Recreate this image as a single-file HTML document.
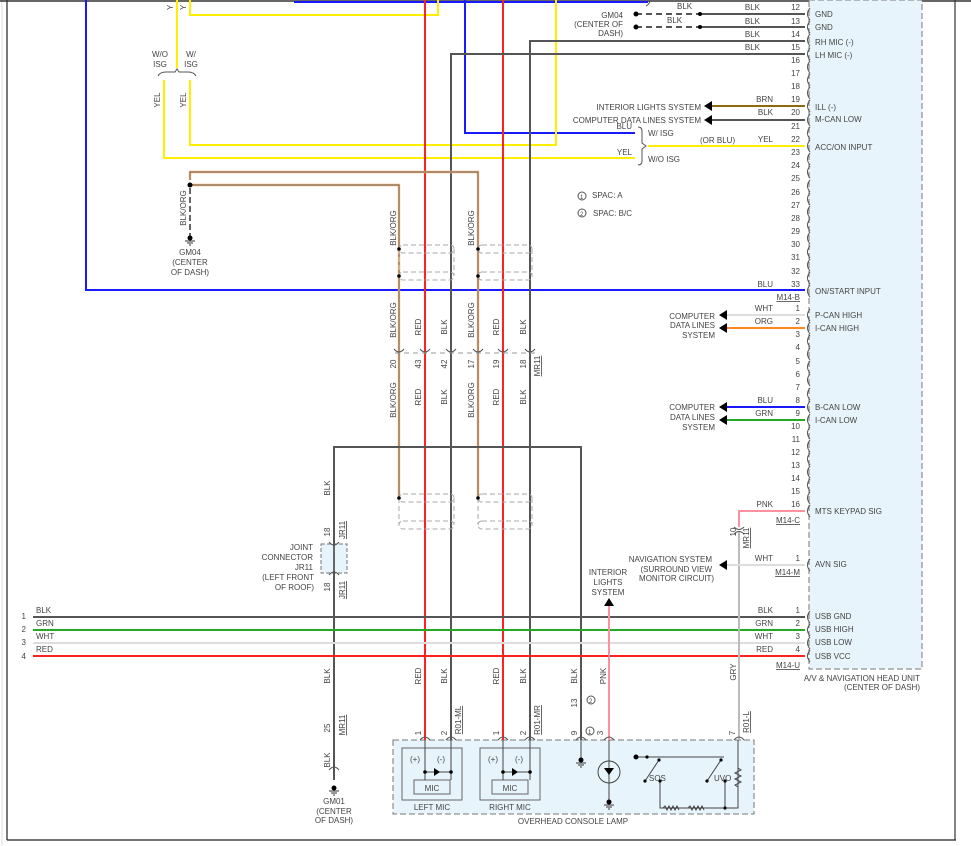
<!DOCTYPE html>
<html><head><meta charset="utf-8"><style>
html,body{margin:0;padding:0;background:#fff;}
svg{display:block;font-family:"Liberation Sans",sans-serif;font-size:8px;fill:#444;}
.w{fill:none;stroke-linecap:butt}
</style></head><body>
<svg width="971" height="846" viewBox="0 0 971 846" xmlns="http://www.w3.org/2000/svg">
<!-- frame -->
<line x1="2" y1="0" x2="2" y2="846" stroke="#ddd" stroke-width="1"/>
<line x1="7" y1="0" x2="7" y2="840" stroke="#222" stroke-width="1.2"/>
<line x1="0" y1="1" x2="971" y2="1" stroke="#333" stroke-width="1.5"/>
<line x1="7" y1="840" x2="956" y2="840" stroke="#222" stroke-width="1.2"/>
<line x1="955" y1="0" x2="955" y2="840" stroke="#333" stroke-width="1.2"/>

<!-- head unit -->
<rect x="809" y="0" width="113" height="669" fill="#e8f4fc" stroke="#777" stroke-dasharray="6,3"/>
<!-- overhead console -->
<rect x="393" y="740" width="361" height="74" fill="#e8f4fc" stroke="#777" stroke-dasharray="6,3"/>
<rect x="402" y="748" width="60" height="52" fill="none" stroke="#666"/>
<rect x="414" y="780" width="36" height="14" fill="none" stroke="#666"/>
<rect x="480" y="748" width="60" height="52" fill="none" stroke="#666"/>
<rect x="492" y="780" width="36" height="14" fill="none" stroke="#666"/>
<rect x="321" y="544" width="26" height="29" fill="#e8f4fc" stroke="#777" stroke-dasharray="4,2"/>

<!-- blue -->
<polyline class="w" points="86,0 86,290 805,290" stroke="#1a1aff" stroke-width="2"/>
<polyline class="w" points="294,2 648,2" stroke="#1a1aff" stroke-width="2"/>
<polyline class="w" points="465,0 465,133 635,133" stroke="#1a1aff" stroke-width="2"/>
<!-- yellow -->
<polyline class="w" points="177,0 177,68" stroke="#ffee00" stroke-width="2"/>
<polyline class="w" points="190,0 190,15 438,15 438,0" stroke="#ffee00" stroke-width="2"/>
<polyline class="w" points="164,80 164,158 635,158" stroke="#ffee00" stroke-width="2"/>
<polyline class="w" points="190,80 190,145 556,145 556,0" stroke="#ffee00" stroke-width="2"/>
<polyline class="w" points="648,146 805,146" stroke="#ffee00" stroke-width="2"/>
<path d="M158,76 q2,-4 8,-4 h9 l2,-3 l2,3 h9 q6,0 8,4" class="w" stroke="#555"/>
<path d="M638,127 q4,0 4,4 v12 l4,3 l-4,3 v12 q0,4 -4,4" class="w" stroke="#555"/>
<path d="M650,0 q0,4 -4,6" class="w" stroke="#555"/>

<!-- red verticals -->
<line x1="425" y1="0" x2="425" y2="740" stroke="#ff2020" stroke-width="2"/>
<line x1="503" y1="0" x2="503" y2="740" stroke="#ff2020" stroke-width="2"/>
<!-- black verticals -->
<polyline class="w" points="451,740 451,54 805,54" stroke="#555" stroke-width="2"/>
<polyline class="w" points="530,740 530,41 805,41" stroke="#555" stroke-width="2"/>
<!-- blk/org -->
<polyline class="w" points="190,185 399,185 399,498" stroke="#f5b070" stroke-width="2.4"/>
<polyline class="w" points="190,185 399,185 399,498" stroke="#666" stroke-width="0.9"/>
<polyline class="w" points="190,180 190,172 478,172 478,498" stroke="#f5b070" stroke-width="2.4"/>
<polyline class="w" points="190,180 190,172 478,172 478,498" stroke="#666" stroke-width="0.9"/>
<line x1="190" y1="188" x2="190" y2="236" stroke="#333" stroke-width="1.5" stroke-dasharray="6,3"/>
<circle cx="190" cy="185" r="2.5" fill="#000"/>
<g fill="#000"><circle cx="190" cy="238" r="2.5"/></g>
<path d="M185,241 h10 M187,243 h6 M189,245 h2" stroke="#333"/>
<!-- shields -->
<g class="w" stroke="#aaa" stroke-dasharray="5,3">
<rect x="399" y="245" width="55" height="8" rx="4"/><rect x="399" y="272" width="55" height="8" rx="4"/>
<line x1="399" y1="249" x2="399" y2="276"/><line x1="454" y1="249" x2="454" y2="276"/>
<rect x="478" y="245" width="54" height="8" rx="4"/><rect x="478" y="272" width="54" height="8" rx="4"/>
<line x1="532" y1="249" x2="532" y2="276"/>
<rect x="399" y="494" width="55" height="8" rx="4"/><rect x="399" y="521" width="55" height="8" rx="4"/>
<line x1="399" y1="498" x2="399" y2="525"/><line x1="454" y1="498" x2="454" y2="525"/>
<rect x="478" y="494" width="54" height="8" rx="4"/><rect x="478" y="521" width="54" height="8" rx="4"/>
<line x1="478" y1="498" x2="478" y2="525"/><line x1="532" y1="498" x2="532" y2="525"/>
</g>
<g fill="#000"><circle cx="399" cy="249" r="1.8"/><circle cx="399" cy="276" r="1.8"/><circle cx="478" cy="249" r="1.8"/><circle cx="478" cy="276" r="1.8"/><circle cx="399" cy="498" r="1.8"/><circle cx="478" cy="498" r="1.8"/></g>
<!-- MR11 connector dashed -->
<line x1="395" y1="353" x2="535" y2="353" stroke="#999" stroke-dasharray="5,4"/>
<g class="w" stroke="#555"><path d="M394,349 q5,6 10,0 M420,349 q5,6 10,0 M446,349 q5,6 10,0 M473,349 q5,6 10,0 M498,349 q5,6 10,0 M525,349 q5,6 10,0"/></g>

<!-- grey loop -->
<polyline class="w" points="334,780 334,447 581,447 581,740" stroke="#555" stroke-width="2"/>
<g fill="#000"><circle cx="334" cy="788" r="2.5"/></g>
<path d="M329,791 h10 M331,793 h6 M333,795 h2" stroke="#333"/>

<!-- USB lines -->
<line x1="33" y1="617" x2="805" y2="617" stroke="#555" stroke-width="2"/>
<line x1="33" y1="630" x2="805" y2="630" stroke="#22aa22" stroke-width="2"/>
<line x1="33" y1="643" x2="805" y2="643" stroke="#ddd" stroke-width="2"/>
<line x1="33" y1="656" x2="805" y2="656" stroke="#ff2020" stroke-width="2"/>

<!-- pnk / gry -->
<line x1="609" y1="604" x2="609" y2="740" stroke="#ff90a0" stroke-width="2"/>
<polygon points="604,606 614,606 609,598" fill="#000"/>
<polyline class="w" points="805,511 739,511 739,527" stroke="#ff90a0" stroke-width="2"/>
<line x1="739" y1="532" x2="739" y2="740" stroke="#bbb" stroke-width="2"/>
<path d="M734,527 q5,5 10,0 M734,534 q5,-5 10,0" class="w" stroke="#555"/>

<!-- GND dashed -->
<g stroke="#555" stroke-width="2"><line x1="636" y1="14" x2="700" y2="14" stroke-dasharray="6,4"/><line x1="700" y1="14" x2="805" y2="14"/>
<line x1="636" y1="27" x2="700" y2="27" stroke-dasharray="6,4"/><line x1="700" y1="27" x2="805" y2="27"/></g>
<g fill="#000"><circle cx="636" cy="14" r="2.5"/><circle cx="636" cy="27" r="2.5"/><circle cx="700" cy="14" r="2"/><circle cx="700" cy="27" r="2"/></g>

<!-- left arrows -->
<line x1="712" y1="106" x2="805" y2="106" stroke="#8b6a10" stroke-width="2"/>
<polygon points="704,106 712,101 712,111" fill="#000"/>
<line x1="712" y1="120" x2="805" y2="120" stroke="#555" stroke-width="2"/>
<polygon points="704,120 712,115 712,125" fill="#000"/>
<line x1="727" y1="315" x2="805" y2="315" stroke="#ddd" stroke-width="2"/>
<polygon points="719,315 727,310 727,320" fill="#000"/>
<line x1="727" y1="328" x2="805" y2="328" stroke="#ff8820" stroke-width="2"/>
<polygon points="719,328 727,323 727,333" fill="#000"/>
<line x1="727" y1="407" x2="805" y2="407" stroke="#1a1aff" stroke-width="2"/>
<polygon points="719,407 727,402 727,412" fill="#000"/>
<line x1="727" y1="420" x2="805" y2="420" stroke="#22aa22" stroke-width="2"/>
<polygon points="719,420 727,415 727,425" fill="#000"/>
<line x1="727" y1="565" x2="805" y2="565" stroke="#ddd" stroke-width="2"/>
<polygon points="719,565 727,560 727,570" fill="#000"/>

<!-- right pin arcs -->
<g class="w" stroke="#555">
<path d="M810,8 q-5,6 0,12 M810,21 q-5,6 0,12 M810,34 q-5,6 0,12 M810,48 q-5,6 0,12 M810,61 q-5,6 0,12 M810,74 q-5,6 0,12 M810,87 q-5,6 0,12 M810,100 q-5,6 0,12 M810,114 q-5,6 0,12 M810,127 q-5,6 0,12 M810,140 q-5,6 0,12 M810,153 q-5,6 0,12 M810,166 q-5,6 0,12 M810,180 q-5,6 0,12 M810,193 q-5,6 0,12 M810,206 q-5,6 0,12 M810,219 q-5,6 0,12 M810,232 q-5,6 0,12 M810,246 q-5,6 0,12 M810,259 q-5,6 0,12 M810,272 q-5,6 0,12 M810,285 q-5,6 0,12"/>
<path d="M810,309 q-5,6 0,12 M810,322 q-5,6 0,12 M810,335 q-5,6 0,12 M810,348 q-5,6 0,12 M810,361 q-5,6 0,12 M810,374 q-5,6 0,12 M810,388 q-5,6 0,12 M810,401 q-5,6 0,12 M810,414 q-5,6 0,12 M810,427 q-5,6 0,12 M810,440 q-5,6 0,12 M810,453 q-5,6 0,12 M810,466 q-5,6 0,12 M810,479 q-5,6 0,12 M810,492 q-5,6 0,12 M810,505 q-5,6 0,12"/>
<path d="M810,559 q-5,6 0,12 M810,611 q-5,6 0,12 M810,624 q-5,6 0,12 M810,637 q-5,6 0,12 M810,650 q-5,6 0,12"/>
<!-- bottom pin arcs -->
<path d="M420,740 q5,-6 10,0 M446,740 q5,-6 10,0 M498,740 q5,-6 10,0 M525,740 q5,-6 10,0 M576,740 q5,-6 10,0 M604,740 q5,-6 10,0 M734,740 q5,-6 10,0 M329,770 q5,-6 10,0 M329,542 q5,6 10,0 M329,575 q5,-6 10,0"/>
</g>
<line x1="334" y1="546" x2="334" y2="571" stroke="#777"/>

<!-- console internals -->
<g class="w" stroke="#444">
<line x1="425" y1="740" x2="425" y2="780"/><line x1="451" y1="740" x2="451" y2="780"/>
<line x1="425" y1="772" x2="451" y2="772"/>
<line x1="503" y1="740" x2="503" y2="780"/><line x1="530" y1="740" x2="530" y2="780"/>
<line x1="503" y1="772" x2="530" y2="772"/>
<line x1="581" y1="740" x2="581" y2="758"/>
<line x1="609" y1="740" x2="609" y2="800"/>
<circle cx="609" cy="772" r="11"/>
<line x1="659" y1="757" x2="724" y2="757"/>
<line x1="636" y1="757" x2="659" y2="757"/>
<line x1="659" y1="760" x2="645" y2="781"/>
<line x1="721" y1="760" x2="707" y2="781"/>
<polyline points="660,781 660,808 738,808 738,740"/>
<line x1="725" y1="781" x2="725" y2="808"/>
<path d="M738,768 l3,2 -6,3 6,3 -6,3 6,3 -6,3 3,2"/>
</g>
<g fill="#000"><circle cx="425" cy="772" r="1.8"/><circle cx="451" cy="772" r="1.8"/><circle cx="503" cy="772" r="1.8"/><circle cx="530" cy="772" r="1.8"/>
<circle cx="581" cy="760" r="2.5"/><circle cx="609" cy="802" r="2.5"/><circle cx="636" cy="757" r="2.5"/><circle cx="647" cy="757" r="1.6"/><circle cx="659" cy="760" r="1.6"/><circle cx="645" cy="781" r="1.6"/><circle cx="660" cy="781" r="1.6"/><circle cx="721" cy="760" r="1.6"/><circle cx="707" cy="781" r="1.6"/><circle cx="725" cy="781" r="1.6"/><circle cx="725" cy="808" r="1.6"/>
<polygon points="434,768 440,772 434,776"/><polygon points="512,768 518,772 512,776"/><polygon points="604,768 614,768 609,775"/></g>
<path d="M576,763 h10 M578,765 h6 M580,767 h2 M604,805 h10 M606,807 h6 M608,809 h2" stroke="#333"/>
<path d="M663,808 l2,-2 2,4 2,-4 2,4 2,-4 2,4 2,-4 2,4 M688,808 l2,-2 2,4 2,-4 2,4 2,-4 2,4 2,-4 2,4" class="w" stroke="#444"/>

<!-- texts -->
<g>
<text x="760" y="10" text-anchor="end">BLK</text><text x="800" y="10" text-anchor="end">12</text><text x="815" y="17">GND</text>
<text x="760" y="24" text-anchor="end">BLK</text><text x="800" y="24" text-anchor="end">13</text><text x="815" y="30">GND</text>
<text x="760" y="37" text-anchor="end">BLK</text><text x="800" y="37" text-anchor="end">14</text><text x="815" y="45">RH MIC (-)</text>
<text x="760" y="50" text-anchor="end">BLK</text><text x="800" y="50" text-anchor="end">15</text><text x="815" y="58">LH MIC (-)</text>
<text x="800" y="63" text-anchor="end">16</text><text x="800" y="76" text-anchor="end">17</text><text x="800" y="89" text-anchor="end">18</text>
<text x="773" y="102" text-anchor="end">BRN</text><text x="800" y="102" text-anchor="end">19</text><text x="815" y="110">ILL (-)</text>
<text x="773" y="115" text-anchor="end">BLK</text><text x="800" y="115" text-anchor="end">20</text><text x="815" y="122">M-CAN LOW</text>
<text x="800" y="129" text-anchor="end">21</text>
<text x="773" y="142" text-anchor="end">YEL</text><text x="800" y="142" text-anchor="end">22</text><text x="815" y="150">ACC/ON INPUT</text>
<text x="800" y="155" text-anchor="end">23</text><text x="800" y="168" text-anchor="end">24</text><text x="800" y="181" text-anchor="end">25</text><text x="800" y="195" text-anchor="end">26</text><text x="800" y="208" text-anchor="end">27</text><text x="800" y="221" text-anchor="end">28</text><text x="800" y="234" text-anchor="end">29</text><text x="800" y="247" text-anchor="end">30</text><text x="800" y="260" text-anchor="end">31</text><text x="800" y="274" text-anchor="end">32</text>
<text x="773" y="287" text-anchor="end">BLU</text><text x="800" y="287" text-anchor="end">33</text><text x="815" y="294">ON/START INPUT</text>
<text x="800" y="300" text-anchor="end" text-decoration="underline">M14-B</text>
<text x="773" y="311" text-anchor="end">WHT</text><text x="800" y="311" text-anchor="end">1</text><text x="815" y="318">P-CAN HIGH</text>
<text x="773" y="324" text-anchor="end">ORG</text><text x="800" y="324" text-anchor="end">2</text><text x="815" y="331">I-CAN HIGH</text>
<text x="800" y="337" text-anchor="end">3</text><text x="800" y="350" text-anchor="end">4</text><text x="800" y="364" text-anchor="end">5</text><text x="800" y="377" text-anchor="end">6</text><text x="800" y="390" text-anchor="end">7</text>
<text x="773" y="403" text-anchor="end">BLU</text><text x="800" y="403" text-anchor="end">8</text><text x="815" y="410">B-CAN LOW</text>
<text x="773" y="416" text-anchor="end">GRN</text><text x="800" y="416" text-anchor="end">9</text><text x="815" y="423">I-CAN LOW</text>
<text x="800" y="429" text-anchor="end">10</text><text x="800" y="442" text-anchor="end">11</text><text x="800" y="455" text-anchor="end">12</text><text x="800" y="468" text-anchor="end">13</text><text x="800" y="481" text-anchor="end">14</text><text x="800" y="494" text-anchor="end">15</text>
<text x="773" y="507" text-anchor="end">PNK</text><text x="800" y="507" text-anchor="end">16</text><text x="815" y="514">MTS KEYPAD SIG</text>
<text x="800" y="523" text-anchor="end" text-decoration="underline">M14-C</text>
<text x="773" y="561" text-anchor="end">WHT</text><text x="800" y="561" text-anchor="end">1</text><text x="815" y="567">AVN SIG</text>
<text x="800" y="575" text-anchor="end" text-decoration="underline">M14-M</text>
<text x="773" y="613" text-anchor="end">BLK</text><text x="800" y="613" text-anchor="end">1</text><text x="815" y="619">USB GND</text>
<text x="773" y="626" text-anchor="end">GRN</text><text x="800" y="626" text-anchor="end">2</text><text x="815" y="632">USB HIGH</text>
<text x="773" y="639" text-anchor="end">WHT</text><text x="800" y="639" text-anchor="end">3</text><text x="815" y="645">USB LOW</text>
<text x="773" y="652" text-anchor="end">RED</text><text x="800" y="652" text-anchor="end">4</text><text x="815" y="659">USB VCC</text>
<text x="800" y="668" text-anchor="end" text-decoration="underline">M14-U</text>
<text x="920" y="681" text-anchor="end">A/V &amp; NAVIGATION HEAD UNIT</text>
<text x="920" y="690" text-anchor="end">(CENTER OF DASH)</text>

<text x="677" y="9">BLK</text><text x="667" y="23">BLK</text>
<text x="623" y="18" text-anchor="end">GM04</text><text x="623" y="27" text-anchor="end">(CENTER OF</text><text x="623" y="36" text-anchor="end">DASH)</text>
<text x="701" y="110" text-anchor="end">INTERIOR LIGHTS SYSTEM</text>
<text x="701" y="123" text-anchor="end">COMPUTER DATA LINES SYSTEM</text>
<text x="632" y="129" text-anchor="end">BLU</text><text x="648" y="136">W/ ISG</text><text x="700" y="143">(OR BLU)</text>
<text x="632" y="155" text-anchor="end">YEL</text><text x="648" y="162">W/O ISG</text>
<circle cx="582" cy="196" r="4" fill="none" stroke="#555"/><text x="580" y="199" font-size="6">1</text><text x="592" y="198">SPAC: A</text>
<circle cx="582" cy="213" r="4" fill="none" stroke="#555"/><text x="580" y="216" font-size="6">2</text><text x="593" y="216">SPAC: B/C</text>
<text x="715" y="319" text-anchor="end">COMPUTER</text><text x="715" y="328" text-anchor="end">DATA LINES</text><text x="715" y="338" text-anchor="end">SYSTEM</text>
<text x="715" y="410" text-anchor="end">COMPUTER</text><text x="715" y="420" text-anchor="end">DATA LINES</text><text x="715" y="430" text-anchor="end">SYSTEM</text>
<text x="712" y="562" text-anchor="end">NAVIGATION SYSTEM</text><text x="712" y="572" text-anchor="end">(SURROUND VIEW</text><text x="714" y="581" text-anchor="end">MONITOR CIRCUIT)</text>
<text x="608" y="575" text-anchor="middle">INTERIOR</text><text x="608" y="585" text-anchor="middle">LIGHTS</text><text x="608" y="595" text-anchor="middle">SYSTEM</text>
<text x="160" y="57" text-anchor="middle">W/O</text><text x="160" y="67" text-anchor="middle">ISG</text>
<text x="191" y="57" text-anchor="middle">W/</text><text x="191" y="67" text-anchor="middle">ISG</text>
<text x="190" y="255" text-anchor="middle">GM04</text><text x="190" y="265" text-anchor="middle">(CENTER</text><text x="190" y="275" text-anchor="middle">OF DASH)</text>
<text x="313" y="550" text-anchor="end">JOINT</text><text x="313" y="560" text-anchor="end">CONNECTOR</text><text x="313" y="570" text-anchor="end">JR11</text><text x="314" y="580" text-anchor="end">(LEFT FRONT</text><text x="314" y="590" text-anchor="end">OF ROOF)</text>
<text x="334" y="804" text-anchor="middle">GM01</text><text x="334" y="814" text-anchor="middle">(CENTER</text><text x="334" y="823" text-anchor="middle">OF DASH)</text>
<text x="36" y="613">BLK</text><text x="36" y="626">GRN</text><text x="36" y="639">WHT</text><text x="36" y="652">RED</text>
<text x="26" y="619" text-anchor="end">1</text><text x="26" y="632" text-anchor="end">2</text><text x="26" y="645" text-anchor="end">3</text><text x="26" y="659" text-anchor="end">4</text>
<text x="432" y="810" text-anchor="middle">LEFT MIC</text><text x="510" y="810" text-anchor="middle">RIGHT MIC</text>
<text x="432" y="791" text-anchor="middle">MIC</text><text x="510" y="791" text-anchor="middle">MIC</text>
<text x="410" y="762">(+)</text><text x="437" y="762">(-)</text><text x="488" y="762">(+)</text><text x="515" y="762">(-)</text>
<text x="573" y="824" text-anchor="middle">OVERHEAD CONSOLE LAMP</text>
<text x="649" y="781">SOS</text><text x="714" y="781">UVO</text>
<circle cx="590" cy="731" r="4" fill="none" stroke="#555"/><text x="588" y="734" font-size="6">1</text>
<circle cx="591" cy="700" r="4" fill="none" stroke="#555"/><text x="589" y="703" font-size="6">2</text>
</g>
<!-- rotated labels -->
<g>
<text transform="translate(173,10) rotate(-90)">Y</text><text transform="translate(186,10) rotate(-90)">Y</text>
<text transform="translate(160,100) rotate(-90)" text-anchor="middle">YEL</text>
<text transform="translate(186,100) rotate(-90)" text-anchor="middle">YEL</text>
<text transform="translate(186,208) rotate(-90)" text-anchor="middle">BLK/ORG</text>
<text transform="translate(396,228) rotate(-90)" text-anchor="middle">BLK/ORG</text>
<text transform="translate(474,228) rotate(-90)" text-anchor="middle">BLK/ORG</text>
<text transform="translate(396,320) rotate(-90)" text-anchor="middle">BLK/ORG</text>
<text transform="translate(421,327) rotate(-90)" text-anchor="middle">RED</text>
<text transform="translate(447,327) rotate(-90)" text-anchor="middle">BLK</text>
<text transform="translate(474,320) rotate(-90)" text-anchor="middle">BLK/ORG</text>
<text transform="translate(499,327) rotate(-90)" text-anchor="middle">RED</text>
<text transform="translate(526,327) rotate(-90)" text-anchor="middle">BLK</text>
<text transform="translate(396,364) rotate(-90)" text-anchor="middle">20</text>
<text transform="translate(421,364) rotate(-90)" text-anchor="middle">43</text>
<text transform="translate(447,364) rotate(-90)" text-anchor="middle">42</text>
<text transform="translate(474,364) rotate(-90)" text-anchor="middle">17</text>
<text transform="translate(499,364) rotate(-90)" text-anchor="middle">19</text>
<text transform="translate(526,364) rotate(-90)" text-anchor="middle">18</text>
<text transform="translate(540,366) rotate(-90)" text-anchor="middle" text-decoration="underline">MR11</text>
<text transform="translate(396,400) rotate(-90)" text-anchor="middle">BLK/ORG</text>
<text transform="translate(421,397) rotate(-90)" text-anchor="middle">RED</text>
<text transform="translate(447,397) rotate(-90)" text-anchor="middle">BLK</text>
<text transform="translate(474,400) rotate(-90)" text-anchor="middle">BLK/ORG</text>
<text transform="translate(499,397) rotate(-90)" text-anchor="middle">RED</text>
<text transform="translate(526,397) rotate(-90)" text-anchor="middle">BLK</text>
<text transform="translate(330,488) rotate(-90)" text-anchor="middle">BLK</text>
<text transform="translate(330,532) rotate(-90)" text-anchor="middle">18</text>
<text transform="translate(345,530) rotate(-90)" text-anchor="middle" text-decoration="underline">JR11</text>
<text transform="translate(330,587) rotate(-90)" text-anchor="middle">18</text>
<text transform="translate(345,590) rotate(-90)" text-anchor="middle" text-decoration="underline">JR11</text>
<text transform="translate(330,676) rotate(-90)" text-anchor="middle">BLK</text>
<text transform="translate(330,728) rotate(-90)" text-anchor="middle">25</text>
<text transform="translate(345,725) rotate(-90)" text-anchor="middle" text-decoration="underline">MR11</text>
<text transform="translate(330,760) rotate(-90)" text-anchor="middle">BLK</text>
<text transform="translate(421,676) rotate(-90)" text-anchor="middle">RED</text>
<text transform="translate(447,676) rotate(-90)" text-anchor="middle">BLK</text>
<text transform="translate(499,676) rotate(-90)" text-anchor="middle">RED</text>
<text transform="translate(526,676) rotate(-90)" text-anchor="middle">BLK</text>
<text transform="translate(577,676) rotate(-90)" text-anchor="middle">BLK</text>
<text transform="translate(606,676) rotate(-90)" text-anchor="middle">PNK</text>
<text transform="translate(736,672) rotate(-90)" text-anchor="middle">GRY</text>
<text transform="translate(736,532) rotate(-90)" text-anchor="middle">10</text>
<text transform="translate(749,538) rotate(-90)" text-anchor="middle" text-decoration="underline">MR11</text>
<text transform="translate(421,733) rotate(-90)" text-anchor="middle">1</text>
<text transform="translate(447,733) rotate(-90)" text-anchor="middle">2</text>
<text transform="translate(461,720) rotate(-90)" text-anchor="middle" text-decoration="underline">R01-ML</text>
<text transform="translate(499,733) rotate(-90)" text-anchor="middle">1</text>
<text transform="translate(526,733) rotate(-90)" text-anchor="middle">2</text>
<text transform="translate(540,720) rotate(-90)" text-anchor="middle" text-decoration="underline">R01-MR</text>
<text transform="translate(577,733) rotate(-90)" text-anchor="middle">9</text>
<text transform="translate(577,703) rotate(-90)" text-anchor="middle">13</text>
<text transform="translate(603,733) rotate(-90)" text-anchor="middle">3</text>
<text transform="translate(735,733) rotate(-90)" text-anchor="middle">7</text>
<text transform="translate(749,722) rotate(-90)" text-anchor="middle" text-decoration="underline">R01-L</text>
</g>
</svg>
</body></html>
